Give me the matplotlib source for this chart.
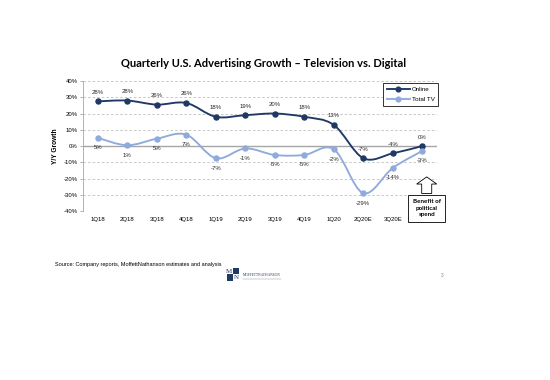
import numpy as np
import matplotlib.pyplot as plt
from matplotlib.path import Path
from matplotlib.patches import PathPatch, Rectangle, FancyArrow

quarters = ['1Q18', '2Q18', '3Q18', '4Q18', '1Q19', '2Q19', '3Q19', '4Q19',
            '1Q20', '2Q20E', '3Q20E', '4Q20E']
online = [27.5, 28, 25.5, 26.5, 18, 19, 20, 18, 13, -7.5, -4.5, 0]
total_tv = [5, 0.5, 4.5, 7, -7.5, -1.5, -5.5, -5.5, -2, -29, -13.5, -3]
online_labels = ['28%', '28%', '26%', '26%', '18%', '19%', '20%', '18%', '13%',
                 '-7%', '-4%', '0%']
tv_labels = ['5%', '1%', '5%', '7%', '-7%', '-1%', '-5%', '-5%', '-2%', '-29%',
             '-14%', '-3%']
y_ticks = [40, 30, 20, 10, 0, -10, -20, -30, -40]

NAVY = '#1F3864'
LIGHT = '#8FAADC'
SANS = ['Liberation Sans', 'DejaVu Sans']


def smooth_path(xs, ys):
    # catmull-rom style smoothing like excel's "smoothed line"
    pts = np.column_stack([xs, ys]).astype(float)
    verts = [pts[0]]
    codes = [Path.MOVETO]
    n = len(pts)
    for i in range(n - 1):
        p0 = pts[max(i - 1, 0)]
        p1 = pts[i]
        p2 = pts[i + 1]
        p3 = pts[min(i + 2, n - 1)]
        c1 = p1 + (p2 - p0) / 6.0
        c2 = p2 - (p3 - p1) / 6.0
        verts += [c1, c2, p2]
        codes += [Path.CURVE4] * 3
    return Path(verts, codes)


fig = plt.figure(figsize=(5.5, 3.8), dpi=100)
ax = fig.add_axes([0.151, 0.4447, 0.6436, 0.342])
x = np.arange(len(quarters))

for vals, col, lab in [(online, NAVY, 'Online'), (total_tv, LIGHT, 'Total TV')]:
    ax.add_patch(PathPatch(smooth_path(x, vals), fc='none', ec=col, lw=1.35,
                           zorder=4, capstyle='round'))
    ax.plot(x, vals, 'o', color=col, ms=3.6, zorder=5)
    # legend handle
    ax.plot([], [], '-o', color=col, lw=1.35, ms=3.4, label=lab)

for xi, v, t in zip(x, online, online_labels):
    ax.annotate(t, (xi, v), xytext=(0, 6.5), textcoords='offset points',
                ha='center', va='center', fontsize=4.3, family=SANS, color='#262626')
for xi, v, t in zip(x, total_tv, tv_labels):
    ax.annotate(t, (xi, v), xytext=(0, -7.2), textcoords='offset points',
                ha='center', va='center', fontsize=4.3, family=SANS, color='#262626')

ax.set_xlim(-0.5, len(quarters) - 0.5)
ax.set_ylim(-40, 40)
ax.set_yticks(y_ticks)
ax.set_yticklabels(['%d%%' % v for v in y_ticks], fontsize=4.3, family=SANS)
ax.set_xticks(x)
ax.set_xticklabels(quarters, fontsize=4.3, family=SANS)
ax.tick_params(axis='x', length=0, pad=4)
ax.tick_params(axis='y', length=2, width=0.6, color='#A6A6A6', pad=2)

for v in y_ticks:
    if v == 0:
        ax.axhline(0, color='#A6A6A6', lw=1.0, zorder=2)
    else:
        ax.axhline(v, color='#BFBFBF', lw=0.6, ls=(0, (3, 2.5)), zorder=1)

for s in ['top', 'right', 'bottom']:
    ax.spines[s].set_visible(False)
ax.spines['left'].set_color('#A6A6A6')
ax.spines['left'].set_linewidth(0.6)

ax.set_ylabel('Y/Y Growth', fontsize=4.8, family=SANS, fontweight='bold',
              labelpad=3)

leg = ax.legend(loc='upper right', bbox_to_anchor=(1.012, 1.01),
                frameon=True, fancybox=False, edgecolor='black',
                handlelength=3.6, borderpad=0.6, labelspacing=0.8,
                handletextpad=0.3, prop={'family': SANS, 'size': 4.5})
leg.get_frame().set_linewidth(0.7)

# callout for the last quarter (hollow up arrow over a box)
ax.add_patch(FancyArrow(11.15, -29.2, 0, 10.2, width=0.34, head_width=0.68,
                        head_length=4.4, length_includes_head=True,
                        fc='white', ec='black', lw=0.6, zorder=6, clip_on=False))
ax.text(11.15, -38.2, 'Benefit of\npolitical\nspend', ha='center', va='center',
        fontsize=4.5, fontweight='bold', family=['Lato', 'DejaVu Sans'],
        linespacing=1.4, zorder=7, clip_on=False,
        bbox=dict(boxstyle='square,pad=0.7', fc='white', ec='black', lw=0.6))

fig.text(0.48, 0.832, 'Quarterly U.S. Advertising Growth \u2013 Television vs. Digital',
         ha='center', va='center', fontsize=8, fontweight='bold',
         family=['Lato', 'DejaVu Sans'])

fig.text(0.1, 0.305, 'Source: Company reports, MoffettNathanson estimates and analysis',
         ha='left', va='center', fontsize=4, family=SANS)

# logo
fig.patches.append(Rectangle((0.423, 0.278), 0.012, 0.017, transform=fig.transFigure,
                             fc=NAVY, ec='none'))
fig.patches.append(Rectangle((0.412, 0.261), 0.012, 0.017, transform=fig.transFigure,
                             fc=NAVY, ec='none'))
fig.text(0.417, 0.286, 'M', ha='center', va='center', fontsize=5,
         family=['Liberation Serif'], color=NAVY)
fig.text(0.429, 0.269, 'N', ha='center', va='center', fontsize=5,
         family=['Liberation Serif'], color=NAVY)
fig.text(0.442, 0.277, 'MOFFETTNATHANSON', ha='left', va='center', fontsize=2.6,
         family=['Liberation Serif'], color=NAVY)
fig.lines.append(plt.Line2D([0.442, 0.51], [0.266, 0.266], transform=fig.transFigure,
                            color='#888888', lw=0.3))
fig.text(0.804, 0.275, '3', ha='center', va='center', fontsize=3.5,
         family=SANS, color='#888888')

fig.savefig('out.png', dpi=100, facecolor='white')
